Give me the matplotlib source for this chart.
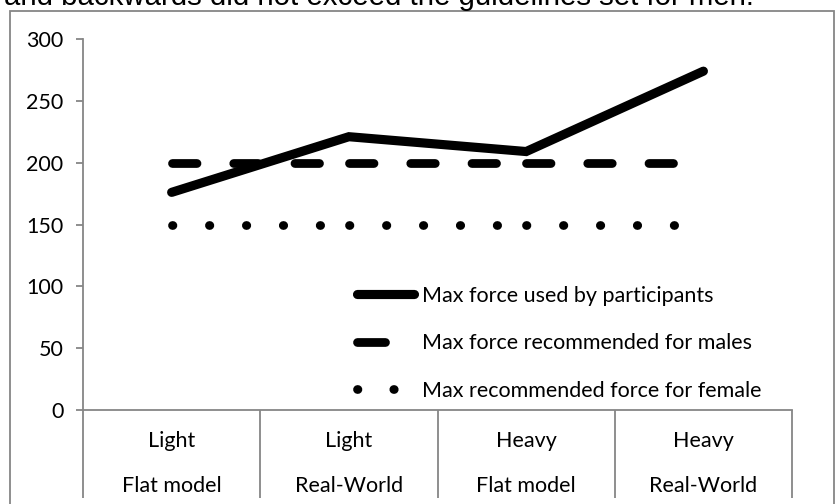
import matplotlib.pyplot as plt
from matplotlib.lines import Line2D
from matplotlib.patches import Rectangle

# Data
load = ["Light", "Light", "Heavy", "Heavy"]
model = ["Flat model", "Real-World", "Flat model", "Real-World"]
force_used = [176, 221, 209, 274]
force_male = [200, 200, 200, 200]
force_female = [150, 150, 150, 150]
series_labels = ["Max force used by participants",
                 "Max force recommended for males",
                 "Max recommended force for female"]
caption = "and backwards did not exceed the guidelines set for men."

GRAY = "#868686"
LW = 6.3
FS = 15.5
plt.rcParams["font.family"] = ["Lato", "DejaVu Sans"]

fig = plt.figure(figsize=(8.36, 5.04), dpi=100)
ax = fig.add_axes([0.0993, 0.1865, 0.8481, 0.7361])

# outer frame of the embedded chart, continues past the bottom
fig.patches.append(Rectangle((10 / 836, -0.1), 824 / 836, 1.1 - 11 / 504,
                             transform=fig.transFigure, fill=False,
                             edgecolor=GRAY, lw=1.3, clip_on=False))
fig.text(4 / 836, 1 - 5 / 504, caption, family="Liberation Sans",
         fontsize=21.2, va="baseline", ha="left")

x = list(range(len(force_used)))
# Excel restarts the dash pattern at every point, so draw segment by segment
for i in range(len(x) - 1):
    seg = x[i:i + 2]
    ax.plot(seg, force_male[i:i + 2], color="black", lw=LW,
            linestyle=(0, (2.8, 4.2)), dash_capstyle="round")
    ax.plot(seg, force_female[i:i + 2], color="black", lw=LW,
            linestyle=(0, (0.05, 4.17)), dash_capstyle="round")
ax.plot(x, force_used, color="black", lw=LW + 0.3,
        solid_capstyle="round", solid_joinstyle="miter")

# axes
ax.set_xlim(-0.5, len(x) - 0.5)
ax.set_ylim(0, 300)
ax.set_yticks(range(0, 301, 50))
for s in ["top", "right"]:
    ax.spines[s].set_visible(False)
for s in ["left", "bottom"]:
    ax.spines[s].set_color(GRAY)
    ax.spines[s].set_linewidth(1.3)
ax.tick_params(axis="y", length=5, width=1.3, color=GRAY, pad=9,
               labelsize=FS)
ax.set_xticks([i - 0.5 for i in range(len(x) + 1)])
ax.set_xticklabels([])
ax.tick_params(axis="x", length=63, width=1.3, color=GRAY)

# two-row category labels
for i in x:
    ax.annotate(load[i], (i, 0), xycoords=("data", "axes fraction"),
                xytext=(0, -22), textcoords="offset points",
                ha="center", va="center", fontsize=FS)
    ax.annotate(model[i], (i, 0), xycoords=("data", "axes fraction"),
                xytext=(0, -55), textcoords="offset points",
                ha="center", va="center", fontsize=FS)

# legend
handles = [
    Line2D([], [], color="black", lw=LW + 0.3, solid_capstyle="round"),
    Line2D([], [], color="black", lw=LW, linestyle=(0, (3.2, 10)),
           dash_capstyle="round"),
    Line2D([], [], color="black", lw=LW, linestyle=(0, (0.05, 4.1)),
           dash_capstyle="round"),
]
ax.legend(handles, series_labels, loc="upper left",
          bbox_to_anchor=(0.3865, 0.335), frameon=False, fontsize=FS,
          handlelength=2.65, handletextpad=0.35, labelspacing=1.28,
          borderpad=0, borderaxespad=0)

fig.savefig("out.png", dpi=100)
